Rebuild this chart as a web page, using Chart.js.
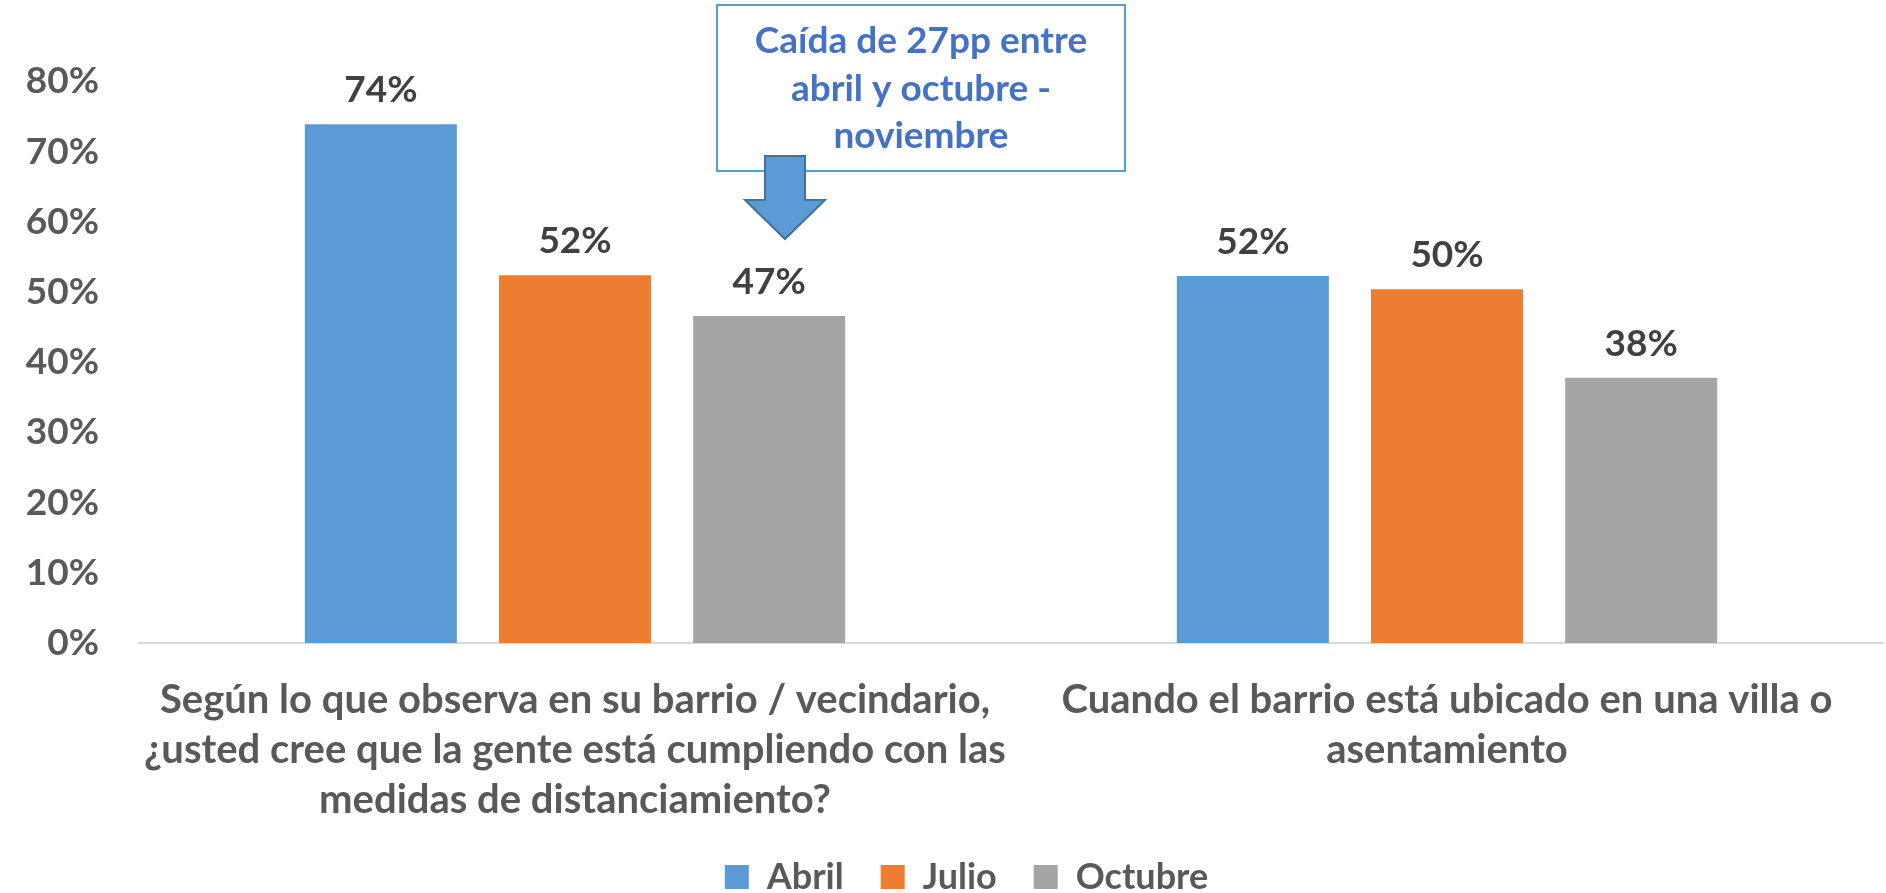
<!DOCTYPE html>
<html>
<head>
<meta charset="utf-8">
<script src="https://cdn.jsdelivr.net/npm/chart.js@4.4.1/dist/chart.umd.min.js"></script>
<style>
  html, body { margin: 0; background: #fff; overflow: hidden; }
  canvas { display: block; }
</style>
</head>
<body>
<canvas id="chart" width="1886" height="893"></canvas>
<script>
// categories (multi-line labels)
const CATEGORIES = [
    ['Según lo que observa en su barrio / vecindario,',
     '¿usted cree que la gente está cumpliendo con las',
     'medidas de distanciamiento?'],
    ['Cuando el barrio está ubicado en una villa o',
     'asentamiento']
];
const SERIES = ['Abril', 'Julio', 'Octubre'];
const COLORS = ['#5B9BD5', '#ED7D31', '#A5A5A5'];

// values (share of respondents)
const ABRIL = [0.739, 0.523];
const JULIO = [0.524, 0.504];
const OCTUBRE = [0.466, 0.378];

const Y_MAX = 0.8;
const Y_STEP = 0.1;

const NOTE_LINES = ['Caída de 27pp entre', 'abril y octubre -', 'noviembre'];

const FONT = 'Lato';
const pct = v => Math.round(v * 100) + '%';

// value labels above each bar
const barLabels = {
    id: 'barLabels',
    afterDatasetsDraw(chart) {
        const ctx = chart.ctx;
        ctx.save();
        ctx.font = `bold 37px ${FONT}`;
        ctx.fillStyle = '#404040';
        ctx.textAlign = 'center';
        ctx.textBaseline = 'alphabetic';
        chart.data.datasets.forEach((ds, i) => {
            chart.getDatasetMeta(i).data.forEach((bar, j) => {
                ctx.fillText(pct(ds.data[j]), bar.x, bar.y - 22);
            });
        });
        ctx.restore();
    }
};

// legend in the original sits a bit right of the canvas centre
const legendShift = {
    id: 'legendShift',
    afterLayout(chart) {
        chart.legend.left += 25;
        chart.legend.right += 25;
    }
};

// text box + down arrow over the first group
const callout = {
    id: 'callout',
    afterDraw(chart) {
        const ctx = chart.ctx;
        ctx.save();
        ctx.strokeStyle = '#5B9BD5';
        ctx.lineWidth = 2;
        ctx.strokeRect(717, 5, 408, 166);

        ctx.font = `bold 37px ${FONT}`;
        ctx.fillStyle = '#4472C4';
        ctx.textAlign = 'center';
        ctx.textBaseline = 'alphabetic';
        NOTE_LINES.forEach((t, i) => ctx.fillText(t, 921, 53 + i * 47.5));

        ctx.beginPath();
        ctx.moveTo(765, 156);
        ctx.lineTo(805, 156);
        ctx.lineTo(805, 200);
        ctx.lineTo(825, 200);
        ctx.lineTo(785, 239);
        ctx.lineTo(745, 200);
        ctx.lineTo(765, 200);
        ctx.closePath();
        ctx.fillStyle = '#5B9BD5';
        ctx.fill();
        ctx.strokeStyle = '#41719C';
        ctx.lineWidth = 2;
        ctx.stroke();
        ctx.restore();
    }
};

const datasets = [ABRIL, JULIO, OCTUBRE].map((vals, i) => ({
    label: SERIES[i],
    data: vals,
    backgroundColor: COLORS[i],
    barPercentage: 0.783,
    categoryPercentage: 0.668
}));

new Chart(document.getElementById('chart'), {
    type: 'bar',
    data: { labels: CATEGORIES, datasets },
    options: {
        responsive: false,
        animation: false,
        layout: { padding: { top: 81.5, left: 0, right: 3, bottom: 0 } },
        scales: {
            x: {
                grid: { display: false, drawTicks: false },
                border: { display: true, color: '#D9D9D9', width: 2 },
                ticks: {
                    padding: 32,
                    color: '#595959',
                    maxRotation: 0,
                    autoSkip: false,
                    font: { family: FONT, weight: 'bold', size: 40, lineHeight: 50 / 40 }
                },
                afterFit: s => { s.height = 179; }
            },
            y: {
                min: 0,
                max: Y_MAX,
                grid: { display: false, drawTicks: false },
                border: { display: false },
                ticks: {
                    stepSize: Y_STEP,
                    padding: 40,
                    color: '#595959',
                    font: { family: FONT, weight: 'bold', size: 37 },
                    callback: v => pct(v)
                },
                afterFit: s => { s.width = 139; }
            }
        },
        plugins: {
            legend: {
                position: 'bottom',
                maxHeight: 71,
                labels: {
                    boxWidth: 24,
                    boxHeight: 24,
                    padding: 37,
                    color: '#595959',
                    font: { family: FONT, weight: 'bold', size: 36 }
                }
            },
            tooltip: { enabled: false }
        }
    },
    plugins: [barLabels, legendShift, callout]
});
</script>
</body>
</html>
